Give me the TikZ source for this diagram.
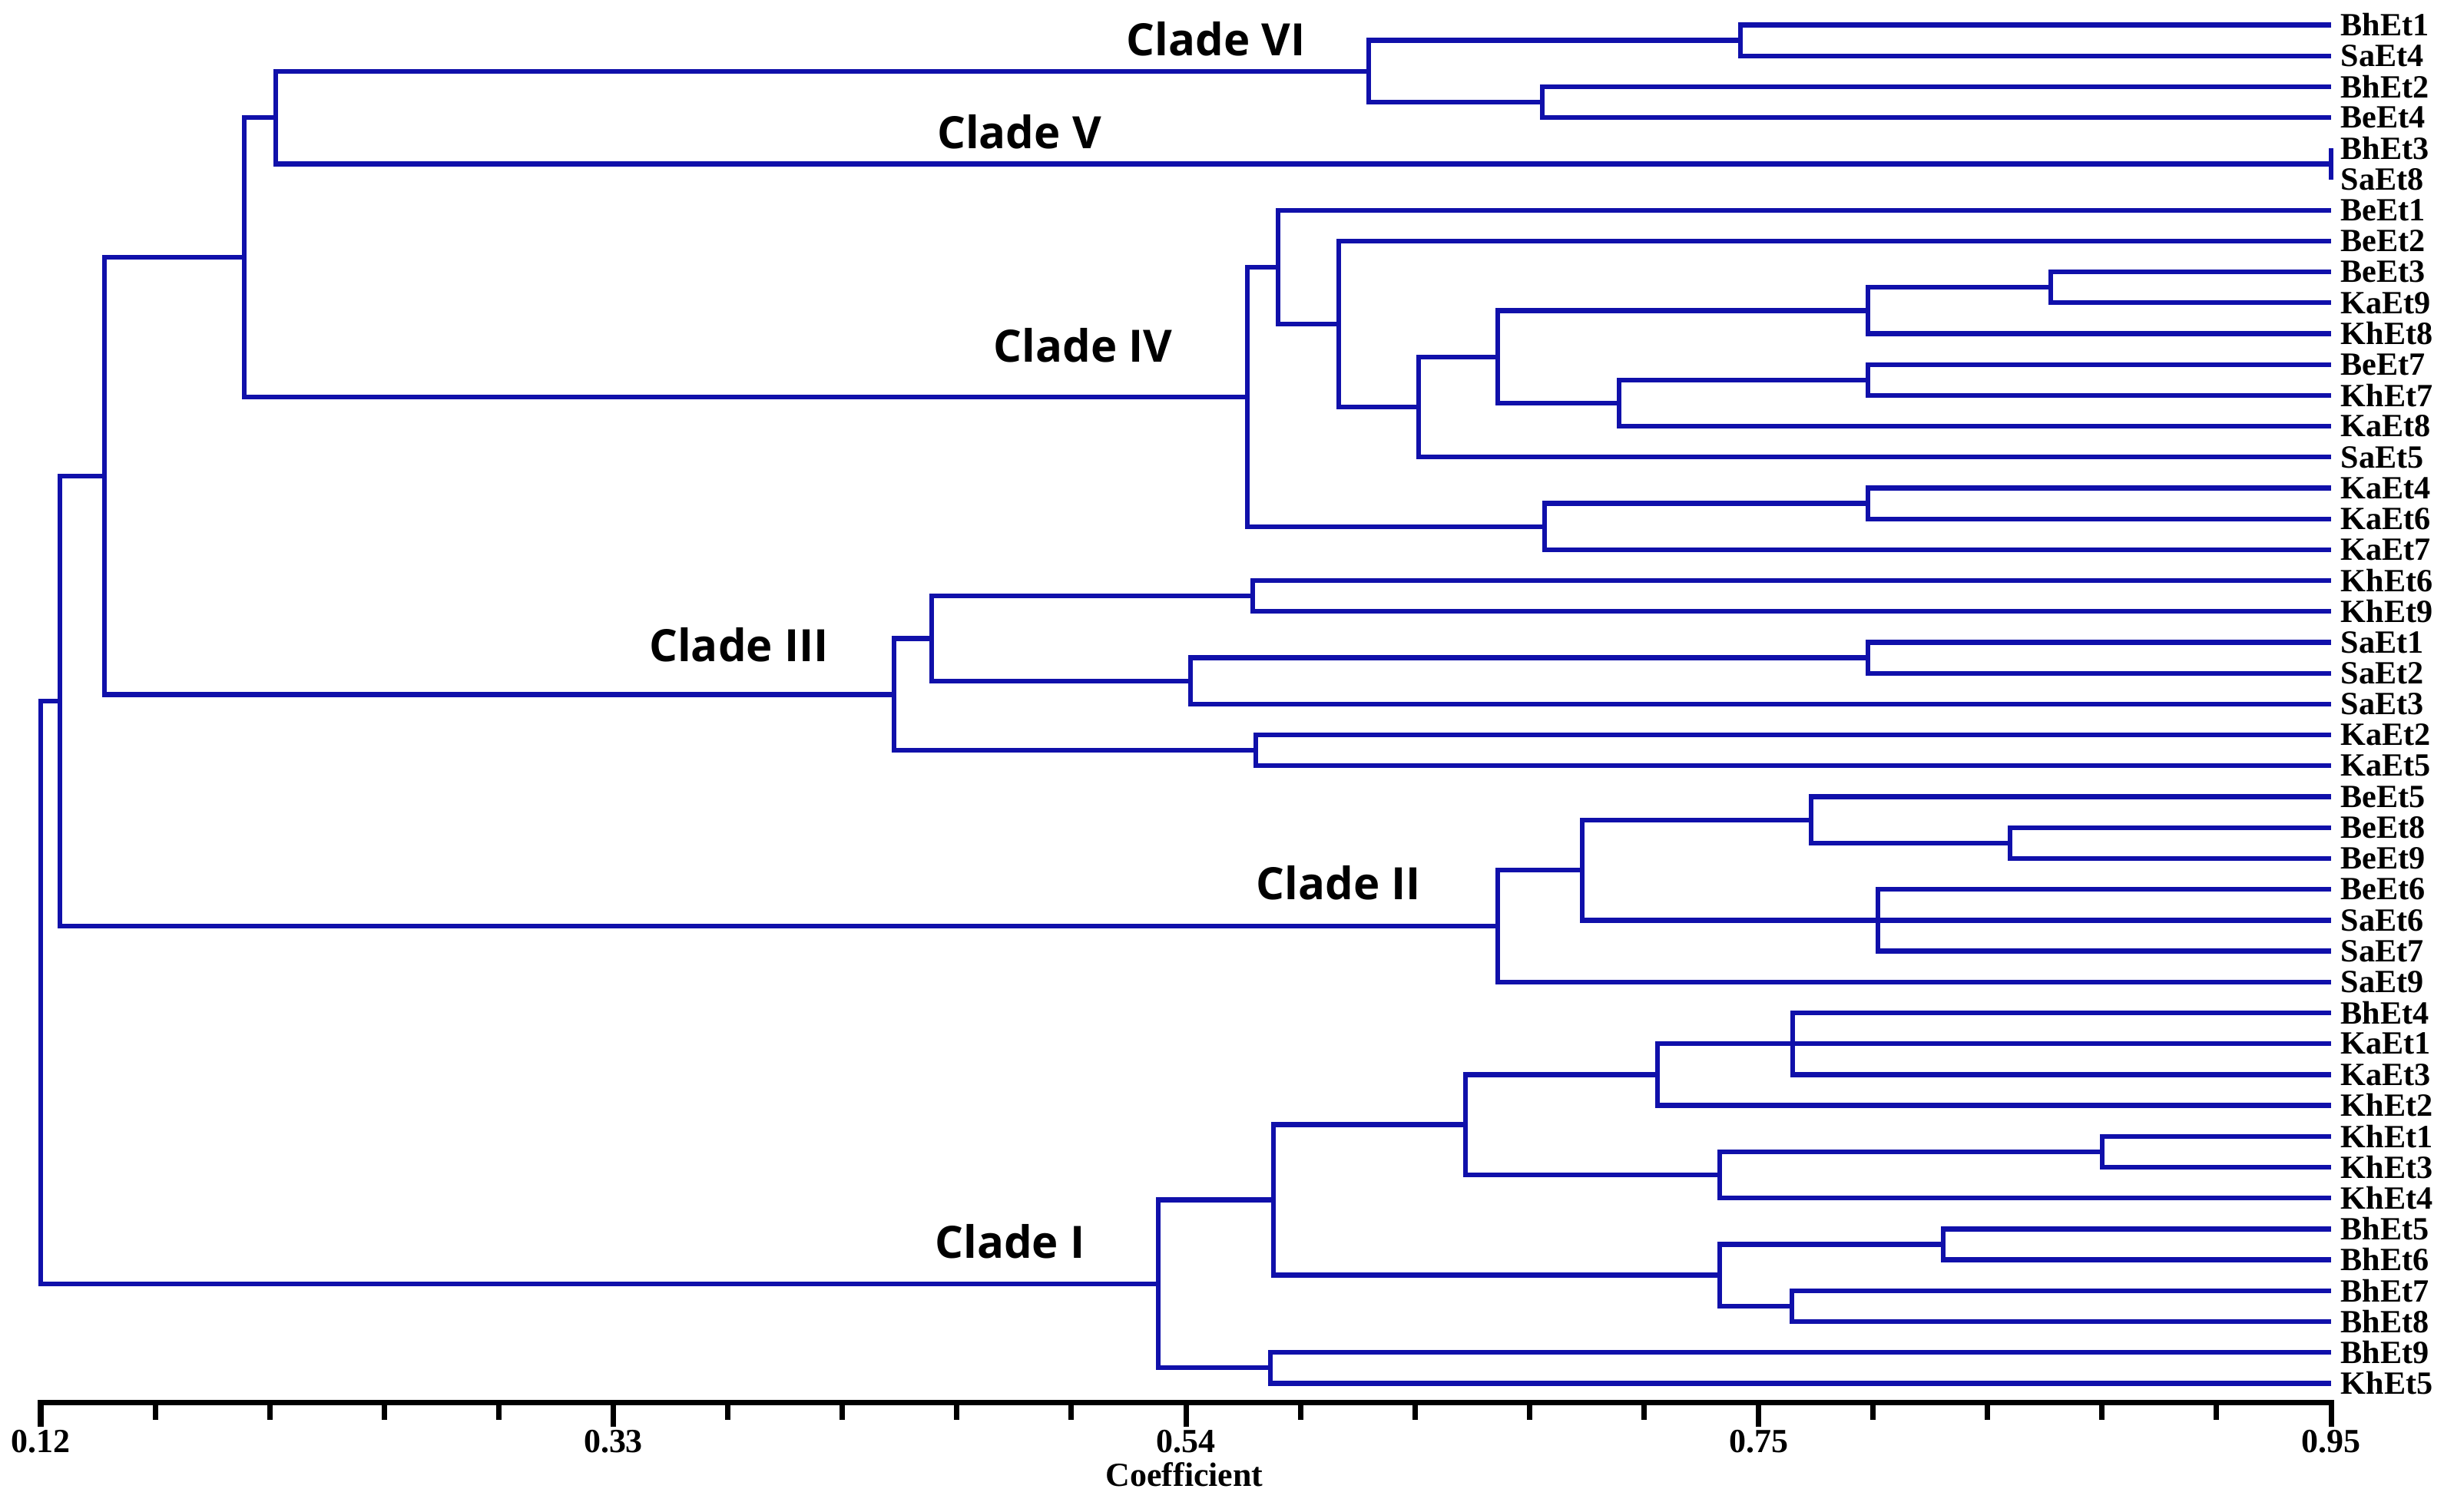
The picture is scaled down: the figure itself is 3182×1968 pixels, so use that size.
\documentclass[tikz,border=0pt]{standalone}
\usepackage{fontspec}
\setmainfont{Liberation Serif}
\newfontfamily\cladefont{Open Sans}
\definecolor{treeblue}{RGB}{16,16,170}
\begin{document}
\begin{tikzpicture}[x=0.01cm,y=-0.01cm,
  branch/.style={draw=treeblue, line width=1.8pt},
  leaflabel/.style={anchor=west, font=\bfseries\fontsize{12}{12}\selectfont, inner sep=0pt},
  cladelabel/.style={font=\cladefont\bfseries\fontsize{16.5}{18}\selectfont, inner sep=0pt},
  ticklabel/.style={font=\bfseries\fontsize{12.5}{13}\selectfont, inner sep=0pt},
  axisline/.style={draw=black, line width=2pt, line cap=rect}]
\useasboundingbox (0,0) rectangle (3182,1968);

% leaves
\foreach \i/\n in {0/BhEt1,1/SaEt4,2/BhEt2,3/BeEt4,4/BhEt3,5/SaEt8,6/BeEt1,7/BeEt2,8/BeEt3,9/KaEt9,
  10/KhEt8,11/BeEt7,12/KhEt7,13/KaEt8,14/SaEt5,15/KaEt4,16/KaEt6,17/KaEt7,18/KhEt6,19/KhEt9,
  20/SaEt1,21/SaEt2,22/SaEt3,23/KaEt2,24/KaEt5,25/BeEt5,26/BeEt8,27/BeEt9,28/BeEt6,29/SaEt6,
  30/SaEt7,31/SaEt9,32/BhEt4,33/KaEt1,34/KaEt3,35/KhEt2,36/KhEt1,37/KhEt3,38/KhEt4,39/BhEt5,
  40/BhEt6,41/BhEt7,42/BhEt8,43/BhEt9,44/KhEt5}{
  \coordinate (l\i) at (3035,{32.5+40.2*\i});
  \node[leaflabel] (t\i) at (3047,{32.5+40.2*\i}) {\n};
}

% internal nodes
\coordinate (n1) at (2266,{32.5+40.2*0.5});
\coordinate (n2) at (2008,{32.5+40.2*2.5});
\coordinate (n3) at (1782,{32.5+40.2*1.5});
\coordinate (n4) at (3035,{32.5+40.2*4.5});
\coordinate (n5) at (359,{32.5+40.2*3.0});
\coordinate (n6) at (2670,{32.5+40.2*8.5});
\coordinate (n7) at (2432,{32.5+40.2*9.25});
\coordinate (n8) at (2432,{32.5+40.2*11.5});
\coordinate (n9) at (2108,{32.5+40.2*12.25});
\coordinate (n10) at (1950,{32.5+40.2*10.75});
\coordinate (n11) at (1847,{32.5+40.2*12.375});
\coordinate (n12) at (1743,{32.5+40.2*9.6875});
\coordinate (n13) at (1664,{32.5+40.2*7.84375});
\coordinate (n14) at (2432,{32.5+40.2*15.5});
\coordinate (n15) at (2011,{32.5+40.2*16.25});
\coordinate (n16) at (1624,{32.5+40.2*12.046875});
\coordinate (n17) at (318,{32.5+40.2*7.5234});
\coordinate (n18) at (1631,{32.5+40.2*18.5});
\coordinate (n19) at (2432,{32.5+40.2*20.5});
\coordinate (n20) at (1550,{32.5+40.2*21.25});
\coordinate (n21) at (1213,{32.5+40.2*19.875});
\coordinate (n22) at (1635,{32.5+40.2*23.5});
\coordinate (n23) at (1164,{32.5+40.2*21.6875});
\coordinate (n24) at (136,{32.5+40.2*14.6055});
\coordinate (n25) at (2617,{32.5+40.2*26.5});
\coordinate (n26) at (2358,{32.5+40.2*25.75});
\coordinate (n27) at (2445,{32.5+40.2*29});
\coordinate (n28) at (2060,{32.5+40.2*27.375});
\coordinate (n29) at (1950,{32.5+40.2*29.1875});
\coordinate (n30) at (78,{32.5+40.2*21.8965});
\coordinate (n31) at (2334,{32.5+40.2*33});
\coordinate (n32) at (2158,{32.5+40.2*34});
\coordinate (n33) at (2737,{32.5+40.2*36.5});
\coordinate (n34) at (2239,{32.5+40.2*37.25});
\coordinate (n35) at (1908,{32.5+40.2*35.625});
\coordinate (n36) at (2530,{32.5+40.2*39.5});
\coordinate (n37) at (2333,{32.5+40.2*41.5});
\coordinate (n38) at (2239,{32.5+40.2*40.5});
\coordinate (n39) at (1658,{32.5+40.2*38.0625});
\coordinate (n40) at (1654,{32.5+40.2*43.5});
\coordinate (n41) at (1508,{32.5+40.2*40.78125});
\coordinate (root) at (53,{32.5+40.2*31.339});

% branches
\foreach \p/\c in {n1/l0,n1/l1,n2/l2,n2/l3,n3/n1,n3/n2,n4/l4,n4/l5,n5/n3,n5/n4,
  n6/l8,n6/l9,n7/n6,n7/l10,n8/l11,n8/l12,n9/n8,n9/l13,n10/n7,n10/n9,n11/n10,n11/l14,
  n12/l7,n12/n11,n13/l6,n13/n12,n14/l15,n14/l16,n15/n14,n15/l17,n16/n13,n16/n15,n17/n5,n17/n16,
  n18/l18,n18/l19,n19/l20,n19/l21,n20/n19,n20/l22,n21/n18,n21/n20,n22/l23,n22/l24,n23/n21,n23/n22,
  n24/n17,n24/n23,
  n25/l26,n25/l27,n26/l25,n26/n25,n27/l28,n27/l29,n27/l30,n28/n26,n28/n27,n29/n28,n29/l31,
  n30/n24,n30/n29,
  n31/l32,n31/l33,n31/l34,n32/n31,n32/l35,n33/l36,n33/l37,n34/n33,n34/l38,n35/n32,n35/n34,
  n36/l39,n36/l40,n37/l41,n37/l42,n38/n36,n38/n37,n39/n35,n39/n38,n40/l43,n40/l44,
  n41/n39,n41/n40,root/n30,root/n41}{
  \draw[branch] (\p) |- (\c);
}

% clade labels
\node[cladelabel] (c6) at (1583,51) {Clade VI};
\node[cladelabel] (c5) at (1327,172) {Clade V};
\node[cladelabel] (c4) at (1410,450) {Clade IV};
\node[cladelabel] (c3) at (962,840) {Clade III};
\node[cladelabel] (c2) at (1743,1150) {Clade II};
\node[cladelabel] (c1) at (1315,1617) {Clade I};

% axis
\coordinate (ax0) at (53,1826);
\coordinate (ax1) at (3035,1826);
\draw[axisline] (ax0) -- (ax1);
\foreach \k in {0,...,20}{
  \draw[axisline] ({53+149.1*\k},1826) -- ++(0,19);
}
\foreach \k in {0,5,10,15,20}{
  \draw[axisline] ({53+149.1*\k},1826) -- ++(0,28);
}
\foreach \k/\v in {0/0.12,1/0.33,2/0.54,3/0.75,4/0.95}{
  \node[ticklabel] (k\k) at ({53+745.5*\k},1877) {\v};
}
\node[ticklabel] (coef) at (1542,1920) {Coefficient};
\end{tikzpicture}
\end{document}
